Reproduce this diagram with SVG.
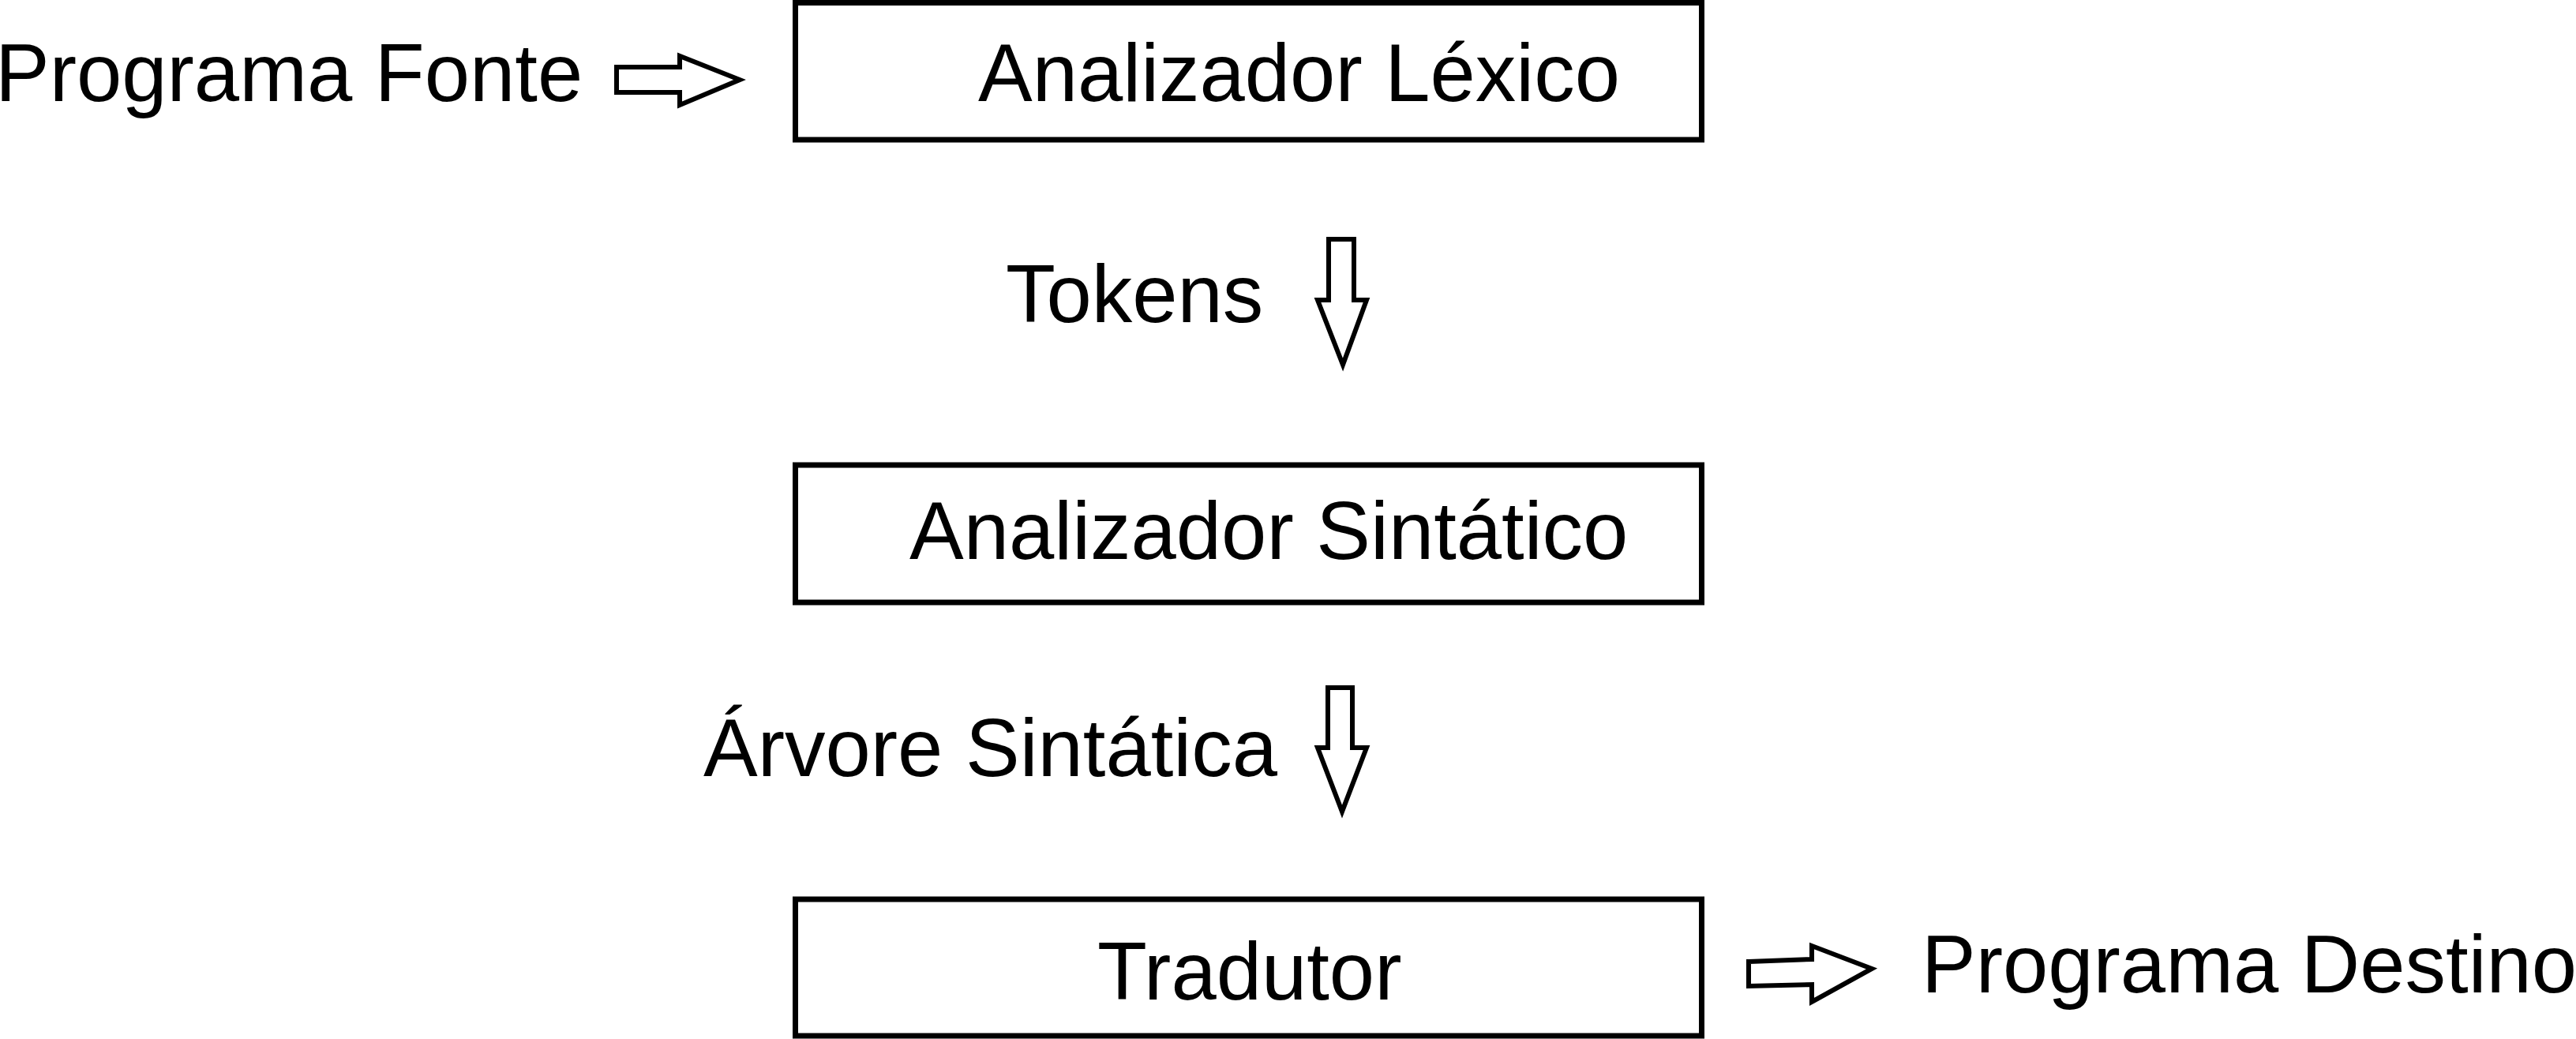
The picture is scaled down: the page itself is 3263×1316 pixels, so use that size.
<svg xmlns="http://www.w3.org/2000/svg" width="3263" height="1316" viewBox="0 0 3263 1316">
<style>
.box{fill:#fff;stroke:#000;stroke-width:7}
.arr{fill:#fff;stroke:#000;stroke-width:6;stroke-linejoin:miter}
text{font-family:"Liberation Sans",Arial,sans-serif;font-size:103px;fill:#000}
</style>
<rect width="3263" height="1316" fill="#fff"/>
<g id="connectors">
<polygon class="arr" points="781,85 861,85 861,71 937,101 861,133 861,117 781,117"/>
<polygon class="arr" points="1683,303 1715,303 1715,380 1731,380 1701,462 1669,380 1683,380"/>
<polygon class="arr" points="1682,871 1713,871 1713,947 1731,947 1700,1028 1669,947 1682,947"/>
<polygon class="arr" points="2215,1218 2295,1215 2295,1198 2371,1227 2295,1269 2295,1247 2215,1249"/>
</g>
<g id="programa-fonte"><text x="-6" y="128">Programa Fonte</text></g>
<g id="analizador-lexico">
<rect class="box" x="1007.5" y="3.5" width="1148" height="173.5"/>
<text x="1239" y="128">Analizador Léxico</text>
</g>
<g id="tokens"><text x="1274" y="408">Tokens</text></g>
<g id="analizador-sintatico">
<rect class="box" x="1007.5" y="589" width="1148" height="174"/>
<text x="1152" y="708">Analizador Sintático</text>
</g>
<g id="arvore-sintatica"><text x="891" y="983">Árvore Sintática</text></g>
<g id="tradutor">
<rect class="box" x="1007.5" y="1139" width="1148" height="173"/>
<text x="1390" y="1266">Tradutor</text>
</g>
<g id="programa-destino"><text x="2434" y="1257">Programa Destino</text></g>
</svg>
